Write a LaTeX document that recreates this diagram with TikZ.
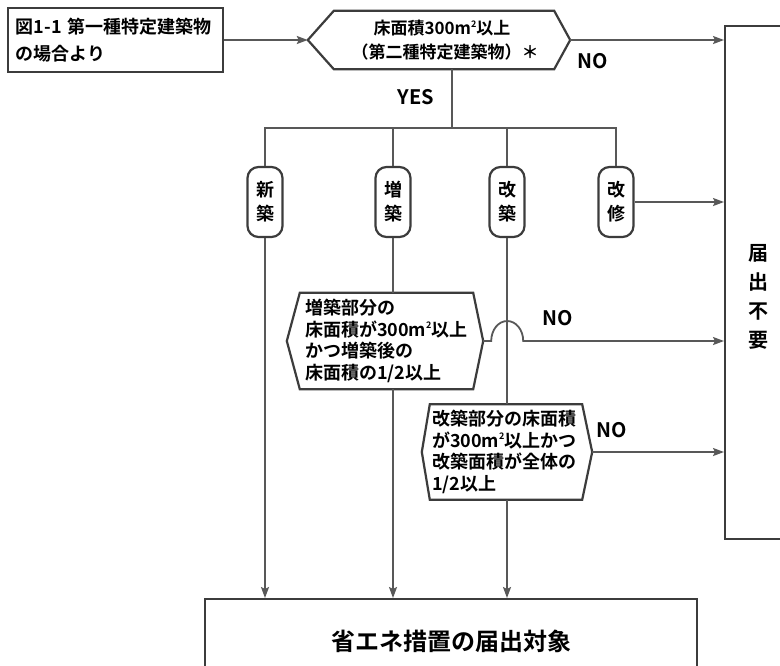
\documentclass[tikz,border=0pt]{standalone}
\usepackage{fontspec}
\setmainfont{Noto Sans CJK JP}[BoldFont={Noto Sans CJK JP Bold}]
\usetikzlibrary{arrows.meta}
\definecolor{ln}{RGB}{88,88,88}
\definecolor{bd}{RGB}{60,60,60}
\newcommand\hexpath[3]{%
  \draw[box] (#1.west) -- ([xshift=#2]#1.north west) -- ([xshift=-#3]#1.north east)
    -- (#1.east) -- ([xshift=-#3]#1.south east) -- ([xshift=#2]#1.south west) -- cycle;}
\newcommand\msq{m\raisebox{0.42em}{\fontsize{9}{9}\selectfont 2}}
\begin{document}
\begin{tikzpicture}[x=1pt,y=-1pt,
  conn/.style={draw=ln, line width=1.8pt},
  arr/.style={conn, -{Stealth[length=11pt,width=8pt,inset=2pt]}},
  box/.style={draw=bd, line width=2.2pt},
  txt/.style={font=\fontsize{18}{21.5}\selectfont\bfseries, text=black},
  capsule/.style={box, rounded corners=11pt, minimum width=35pt, minimum height=70pt,
    inner sep=0pt, align=center, font=\fontsize{18}{24}\selectfont\bfseries},
  yn/.style={font=\fontsize{20}{20}\selectfont\bfseries, inner sep=0pt}
]
\useasboundingbox (0,0) rectangle (780,665);
\clip (0,0) rectangle (780,665);
\fill[white] (0,0) rectangle (780,665);

% left box
\node[box, font=\fontsize{18}{27}\selectfont\bfseries, minimum width=215pt, minimum height=64pt,
  text width=199pt, inner xsep=8pt, align=left] (lb) at (115.5,40)
  {\mbox{図1-1 第一種特定建築物}\\の場合より};

% hexagon 1
\node[font=\fontsize{17}{24}\selectfont\bfseries, minimum width=262pt, minimum height=58pt,
  inner sep=0pt, align=center] (h1) at (439,40) {\hspace*{6pt}床面積300\msq 以上\\\hspace*{12pt}（第二種特定建築物）＊};
\hexpath{h1}{26pt}{16pt}

% right box
\node[box, anchor=north west, minimum width=100pt, minimum height=513pt] (nf) at (724,25) {};
\node[font=\fontsize{20}{29}\selectfont\bfseries, align=center, inner sep=0pt] (nft) at (758,297)
  {届\\出\\不\\要};

% capsules
\node[capsule] (c1) at (265,202) {新\\築};
\node[capsule] (c2) at (393,202) {増\\築};
\node[capsule] (c3) at (507,202) {改\\築};
\node[capsule] (c4) at (616,202) {改\\修};

% hexagon 2
\node[txt, text width=160pt, inner xsep=18pt, inner ysep=0pt, minimum height=96pt, align=left]
  (h2) at (385,341) {増築部分の\\床面積が300\msq 以上\\かつ増築後の\\床面積の1/2以上};
\hexpath{h2}{13pt}{10pt}

% hexagon 3
\node[txt, text width=150pt, inner xsep=10pt, inner ysep=0pt, minimum height=95pt, align=left]
  (h3) at (507,452) {改築部分の床面積\\が300\msq 以上かつ\\改築面積が全体の\\1/2以上};
\hexpath{h3}{8pt}{10pt}

% bottom box
\node[box, anchor=north west, minimum width=492pt, minimum height=84pt,
  font=\fontsize{24}{24}\selectfont\bfseries] (bb) at (204,598) {省エネ措置の届出対象};

% junction
\coordinate (j) at (452,128);

% connectors
\draw[arr] (lb.east) -- (h1.west);
\draw[arr] (h1.east) -- (h1.east -| nf.west);
\draw[conn] (h1.south -| j) -- (j);
\draw[conn] (c1.north) |- (j);
\draw[conn] (c4.north) |- (j);
\draw[conn] (c2.north) -- (c2.north |- j);
\draw[conn] (c3.north) -- (c3.north |- j);
\draw[arr] (c4.east) -- (c4.east -| nf.west);
\draw[arr] (c1.south) -- (c1.south |- bb.north);
\draw[conn] (c2.south) -- (c2.south |- h2.north);
\draw[arr] (c2.south |- h2.south) -- (c2.south |- bb.north);
\draw[conn] (c3.south) -- (h3.north);
\draw[arr] (h3.south) -- (h3.south |- bb.north);
\draw[arr] (h3.east) -- (h3.east -| nf.west);
\draw[arr] (h2.east) -- ++(8,0) arc[start angle=180, end angle=0, x radius=16pt, y radius=20pt]
  -- (h2.east -| nf.west);

% labels
\node[yn] (yes) at (416,97) {YES};
\node[yn] (no1) at (593,61) {NO};
\node[yn] (no2) at (558,318) {NO};
\node[yn] (no3) at (612,430) {NO};
\end{tikzpicture}
\end{document}
